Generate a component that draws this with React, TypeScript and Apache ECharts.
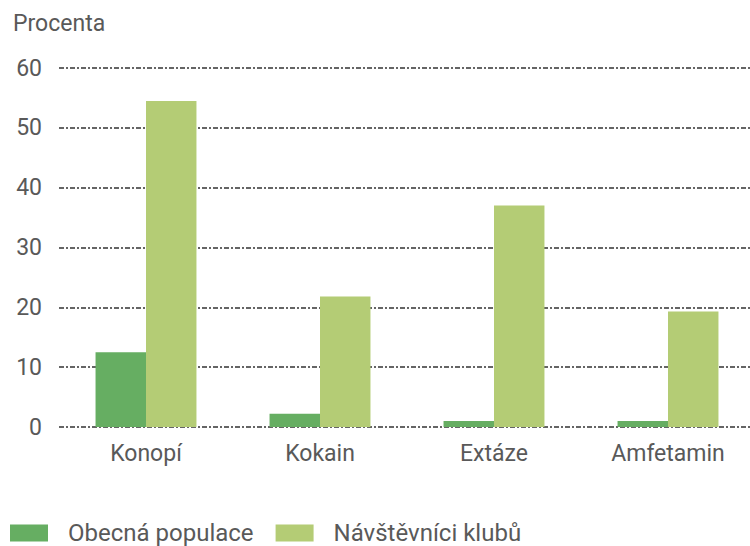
import React, { useEffect, useRef } from "react";
import * as echarts from "echarts";

const categories = ["Konopí", "Kokain", "Extáze", "Amfetamin"];
const seriesNames = ["Obecná populace", "Návštěvníci klubů"];
const generalPopulation = [12.5, 2.2, 1.0, 1.0];
const clubVisitors = [54.5, 21.8, 37.0, 19.3];
const yTicks = [0, 10, 20, 30, 40, 50, 60];

const DARK = "#66ae62";
const LIGHT = "#b4cc75";
const TEXT = "#595959";
const FONT = "Roboto, 'Liberation Sans', sans-serif";

export default function App() {
  const ref = useRef<HTMLDivElement>(null);
  useEffect(() => {
    if (!ref.current) return;
    const chart = echarts.init(ref.current, null, { renderer: "svg" });
    chart.setOption({
      animation: false,
      textStyle: { fontFamily: FONT },
      title: {
        text: "Procenta",
        left: 13,
        top: 12,
        padding: 0,
        textStyle: { fontSize: 23, fontWeight: "normal", color: TEXT, fontFamily: FONT },
      },
      legend: {
        left: 10,
        top: 521,
        padding: 0,
        itemWidth: 38,
        itemHeight: 17,
        itemGap: 22,
        icon: "rect",
        textStyle: { fontSize: 24, color: TEXT, fontFamily: FONT, padding: [0, 0, 0, 15] },
        data: seriesNames,
      },
      grid: { left: 59, top: 68, width: 696, height: 359, containLabel: false },
      xAxis: {
        type: "category",
        data: categories,
        axisLine: { show: false },
        axisTick: { show: false },
        axisLabel: { fontSize: 23, color: TEXT, margin: 15, fontFamily: FONT },
      },
      yAxis: {
        type: "value",
        min: yTicks[0],
        max: yTicks[yTicks.length - 1],
        interval: 10,
        axisLine: { show: false },
        axisTick: { show: false },
        axisLabel: { fontSize: 23, color: TEXT, margin: 17, fontFamily: FONT },
        splitLine: { lineStyle: { color: "#333333", width: 1.5, type: [5, 2, 2, 2] } },
      },
      series: [
        {
          name: seriesNames[0],
          type: "bar",
          data: generalPopulation,
          itemStyle: { color: DARK },
          barGap: "0%",
          barCategoryGap: "42%",
        },
        {
          name: seriesNames[1],
          type: "bar",
          data: clubVisitors,
          itemStyle: { color: LIGHT },
          barGap: "0%",
          barCategoryGap: "42%",
        },
      ],
    });
    return () => chart.dispose();
  }, []);
  return (
    <div style={{ width: 750, height: 546, position: "absolute", left: 0, top: 0, overflow: "hidden" }}>
      <div ref={ref} style={{ width: 780, height: 546 }} />
    </div>
  );
}
